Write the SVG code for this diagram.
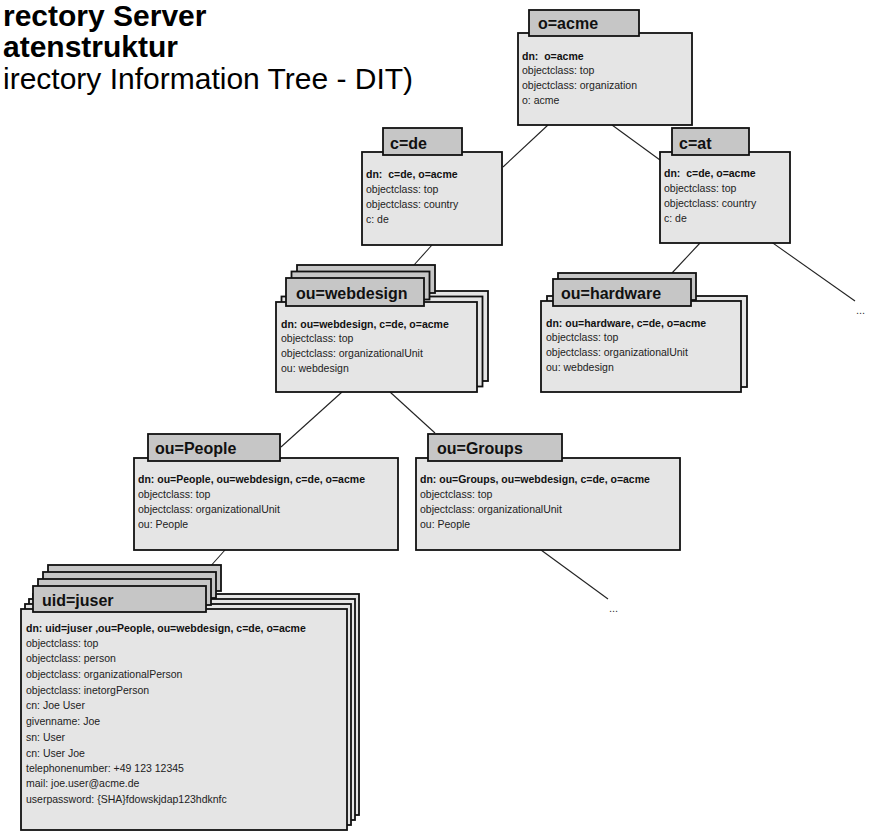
<svg xmlns="http://www.w3.org/2000/svg" width="871" height="831" viewBox="0 0 871 831">
<style>
.bg{fill:#ffffff}
.title{font-family:"Liberation Sans",Arial,sans-serif;font-size:30px;fill:#000}
.b{font-weight:bold}
.body{fill:#e5e5e5;stroke:#111;stroke-width:1.8}
.tab{fill:#c6c6c6;stroke:#111;stroke-width:1.8}
.lbl{font-family:"Liberation Sans",Arial,sans-serif;font-size:16px;font-weight:bold;fill:#111}
.t{font-family:"Liberation Sans",Arial,sans-serif;font-size:10.5px;fill:#222}
.dn{font-family:"Liberation Sans",Arial,sans-serif;font-size:10.5px;font-weight:bold;fill:#111}
.conn line{stroke:#222;stroke-width:1.1}
.dots{font-family:"Liberation Sans",Arial,sans-serif;font-size:11px;fill:#333}
</style>
<rect class="bg" x="0" y="0" width="871" height="831"/>

<g id="title">
<text class="title b" x="3" y="26">rectory Server</text>
<text class="title b" x="3" y="57">atenstruktur</text>
<text class="title" x="3" y="89">irectory Information Tree - DIT)</text>
</g>

<g id="connectors" class="conn">
<line x1="548" y1="125" x2="503" y2="167"/>
<line x1="612" y1="125" x2="660" y2="160"/>
<line x1="432" y1="245" x2="414" y2="265"/>
<line x1="700" y1="243" x2="672" y2="273"/>
<line x1="743" y1="222" x2="855" y2="301"/>
<line x1="342" y1="392" x2="281" y2="447"/>
<line x1="390" y1="392" x2="435" y2="433"/>
<line x1="225" y1="550" x2="208" y2="569"/>
<line x1="541" y1="550" x2="608" y2="599"/>
</g>
<text class="dots" x="856" y="314">...</text>
<text class="dots" x="609" y="612">...</text>

<g id="node-o-acme">
<rect class="body" x="518" y="33" width="174" height="92"/>
<rect class="tab" x="529" y="10" width="110" height="26"/>
<text class="lbl" x="538" y="29">o=acme</text>
<text class="dn" x="522" y="60" xml:space="preserve">dn:  o=acme</text>
<text class="t" x="522" y="74">objectclass: top</text>
<text class="t" x="522" y="89">objectclass: organization</text>
<text class="t" x="522" y="104">o: acme</text>
</g>

<g id="node-c-de">
<rect class="body" x="362" y="152" width="140" height="93"/>
<rect class="tab" x="383" y="128" width="79" height="27"/>
<text class="lbl" x="390" y="149">c=de</text>
<text class="dn" x="366" y="178" xml:space="preserve">dn:  c=de, o=acme</text>
<text class="t" x="366" y="193">objectclass: top</text>
<text class="t" x="366" y="208">objectclass: country</text>
<text class="t" x="366" y="223">c: de</text>
</g>

<g id="node-c-at">
<rect class="body" x="660" y="152" width="130" height="91"/>
<rect class="tab" x="672" y="128" width="77" height="27"/>
<text class="lbl" x="679" y="149">c=at</text>
<text class="dn" x="664" y="177" xml:space="preserve">dn:  c=de, o=acme</text>
<text class="t" x="664" y="192">objectclass: top</text>
<text class="t" x="664" y="207">objectclass: country</text>
<text class="t" x="664" y="222">c: de</text>
</g>

<g id="node-ou-webdesign">
<rect class="body" x="287" y="291" width="201" height="90"/>
<rect class="tab" x="297" y="265" width="138" height="28"/>
<rect class="body" x="281.5" y="296.5" width="201" height="90"/>
<rect class="tab" x="291.5" y="271.5" width="138" height="28"/>
<rect class="body" x="276" y="302" width="201" height="90"/>
<rect class="tab" x="286" y="278" width="138" height="28"/>
<text class="lbl" x="296" y="299">ou=webdesign</text>
<text class="dn" x="281" y="328">dn: ou=webdesign, c=de, o=acme</text>
<text class="t" x="281" y="342">objectclass: top</text>
<text class="t" x="281" y="357">objectclass: organizationalUnit</text>
<text class="t" x="281" y="372">ou: webdesign</text>
</g>

<g id="node-ou-hardware">
<rect class="body" x="547" y="296" width="200" height="91"/>
<rect class="tab" x="558" y="273" width="138" height="27"/>
<rect class="body" x="541" y="301" width="200" height="91"/>
<rect class="tab" x="553" y="279" width="138" height="27"/>
<text class="lbl" x="561" y="299">ou=hardware</text>
<text class="dn" x="546" y="327">dn: ou=hardware, c=de, o=acme</text>
<text class="t" x="546" y="341">objectclass: top</text>
<text class="t" x="546" y="356">objectclass: organizationalUnit</text>
<text class="t" x="546" y="371">ou: webdesign</text>
</g>

<g id="node-ou-people">
<rect class="body" x="134" y="458" width="264" height="92"/>
<rect class="tab" x="148" y="434" width="132" height="27"/>
<text class="lbl" x="155" y="454">ou=People</text>
<text class="dn" x="138" y="483">dn: ou=People, ou=webdesign, c=de, o=acme</text>
<text class="t" x="138" y="498">objectclass: top</text>
<text class="t" x="138" y="513">objectclass: organizationalUnit</text>
<text class="t" x="138" y="528">ou: People</text>
</g>

<g id="node-ou-groups">
<rect class="body" x="416" y="458" width="264" height="92"/>
<rect class="tab" x="428" y="434" width="134" height="27"/>
<text class="lbl" x="437" y="454">ou=Groups</text>
<text class="dn" x="420" y="483">dn: ou=Groups, ou=webdesign, c=de, o=acme</text>
<text class="t" x="420" y="498">objectclass: top</text>
<text class="t" x="420" y="513">objectclass: organizationalUnit</text>
<text class="t" x="420" y="528">ou: People</text>
</g>

<g id="node-uid-juser">
<rect class="body" x="33" y="594" width="326" height="221"/>
<rect class="tab" x="48" y="565" width="173" height="26"/>
<rect class="body" x="29" y="599" width="326" height="221"/>
<rect class="tab" x="43" y="572" width="173" height="26"/>
<rect class="body" x="25" y="604" width="326" height="221"/>
<rect class="tab" x="38" y="579" width="173" height="26"/>
<rect class="body" x="21" y="609" width="326" height="221"/>
<rect class="tab" x="33" y="586" width="173" height="26"/>
<text class="lbl" x="42" y="606">uid=juser</text>
<text class="dn" x="26" y="632">dn: uid=juser ,ou=People, ou=webdesign, c=de, o=acme</text>
<text class="t" x="26" y="647">objectclass: top</text>
<text class="t" x="26" y="662">objectclass: person</text>
<text class="t" x="26" y="678">objectclass: organizationalPerson</text>
<text class="t" x="26" y="694">objectclass: inetorgPerson</text>
<text class="t" x="26" y="709">cn: Joe User</text>
<text class="t" x="26" y="725">givenname: Joe</text>
<text class="t" x="26" y="741">sn: User</text>
<text class="t" x="26" y="757">cn: User Joe</text>
<text class="t" x="26" y="772">telephonenumber: +49 123 12345</text>
<text class="t" x="26" y="787">mail: joe.user@acme.de</text>
<text class="t" x="26" y="803">userpassword: {SHA}fdowskjdap123hdknfc</text>
</g>
</svg>
